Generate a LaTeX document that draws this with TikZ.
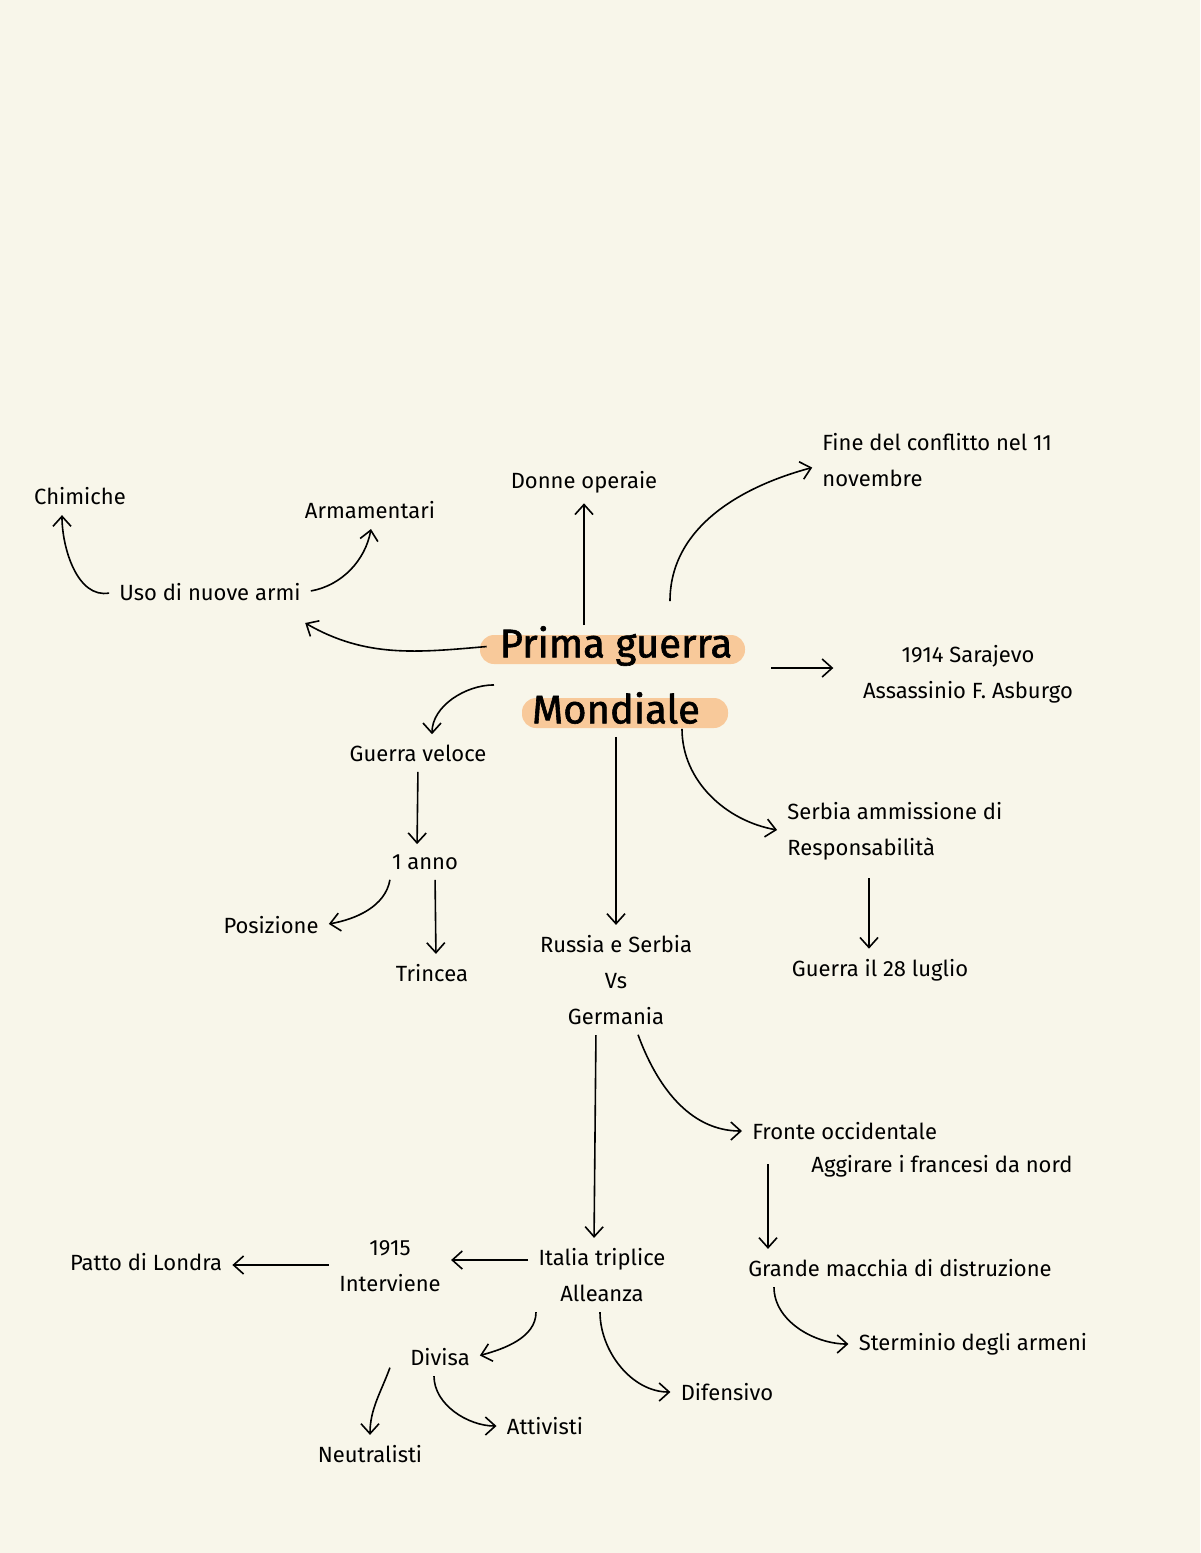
\documentclass[tikz,border=0pt]{standalone}
\usepackage{fontspec}
\setmainfont{Fira Sans}
\usetikzlibrary{arrows.meta}
\definecolor{paper}{HTML}{F8F6EA}
\definecolor{marker}{HTML}{F8C99A}
\tikzset{
  lbl/.style={font=\fontsize{11}{18}\selectfont, align=center, inner sep=2pt},
  lbll/.style={lbl, align=left},
  arr/.style={-{Straight Barb[length=5pt,width=9pt]}, line width=0.8pt, shorten <=3pt, shorten >=3pt},
}
\begin{document}
\begin{tikzpicture}[x=0.5pt,y=-0.5pt]
  \fill[paper] (0,0) rectangle (1200,1553);
  \useasboundingbox (0,0) rectangle (1200,1553);

  %% title
  \fill[marker, rounded corners=7pt] (480,635) rectangle (745,664);
  \fill[marker, rounded corners=7pt] (522,698) rectangle (728,728);
  \node[font=\fontsize{20}{24}\selectfont\addfontfeatures{FakeBold=1.5}] (prima) at (616,646) {Prima guerra};
  \node[font=\fontsize{20}{24}\selectfont\addfontfeatures{FakeBold=1.5}] (mond) at (616,708) {Mondiale};

  %% labels
  \node[lbl] (chim) at (80,496) {Chimiche};
  \node[lbl] (arma) at (370,510) {Armamentari};
  \node[lbl] (donne) at (584,482) {Donne operaie};
  \node[lbll, anchor=west] (fine) at (818,460) {Fine del conflitto nel 11\\novembre};
  \node[lbl] (uso) at (210,592) {Uso di nuove armi};
  \node[lbl] (sara) at (968,674) {1914 Sarajevo\\Assassinio F. Asburgo};
  \node[lbl] (veloce) at (418,753) {Guerra veloce};
  \node[lbll, anchor=west] (serbia) at (783,831) {Serbia ammissione di\\Responsabilità};
  \node[lbl] (anno) at (425,862) {1 anno};
  \node[lbl] (pos) at (271,925) {Posizione};
  \node[lbl] (trin) at (432,973) {Trincea};
  \node[lbl, align=center] (russia) at (616,980) {Russia e Serbia\\Vs\\Germania};
  \node[lbl] (luglio) at (880,970) {Guerra il 28 luglio};
  \node[lbl, anchor=west] (fronte) at (748,1131) {Fronte occidentale};
  \node[lbl] (aggi) at (942,1166) {Aggirare i francesi da nord};
  \node[lbl] (grande) at (900,1268) {Grande macchia di distruzione};
  \node[lbl] (inter) at (390,1266) {1915\\Interviene};
  \node[lbl] (patto) at (146,1262) {Patto di Londra};
  \node[lbl] (italia) at (602,1275) {Italia triplice\\Alleanza};
  \node[lbl] (stermi) at (973,1344) {Sterminio degli armeni};
  \node[lbl] (divisa) at (440,1357) {Divisa};
  \node[lbl] (difen) at (727,1392) {Difensivo};
  \node[lbl] (attiv) at (545,1426) {Attivisti};
  \node[lbl] (neutr) at (370,1454) {Neutralisti};
  \coordinate (fr) at (768,1158);
  \coordinate (sr) at (869,872);
  \coordinate (nt) at (392,1362);

  %% connectors
  \draw[arr] (prima.west) to[out=185,in=-30] (300,620);
  \draw[arr] (uso.west) to[out=190,in=-90] ([xshift=-9pt]chim.south);
  \draw[arr] (uso.east) to[out=10,in=-100] ([xshift=1pt]arma.south);
  \draw[arr] ([yshift=-6pt]prima.north -| donne.south) -- (donne.south);
  \draw[arr] ([xshift=27pt,yshift=6pt]prima.north) to[out=90,in=195] ([yshift=-3pt]fine.west);
  \draw[arr] (prima.east |- 0,668) ++(26,0) -- ++(74,0);
  \draw[arr] ([xshift=-58pt,yshift=-6pt]prima.south) to[out=180,in=90] ([xshift=7pt]veloce.north);
  \draw[arr] ([xshift=33pt,yshift=4pt]mond.south) to[out=-90,in=170] (serbia.west);
  \draw[arr] (mond.south) -- (russia.north);
  \draw[arr] (veloce.south) -- ([xshift=-4pt]anno.north);
  \draw[arr] ([xshift=-17pt]anno.south) to[out=-100,in=10] (pos.east);
  \draw[arr] ([xshift=5pt]anno.south) -- ([xshift=2pt]trin.north);
  \draw[arr] (sr) -- (sr |- luglio.north);
  \draw[arr] ([xshift=-10pt]russia.south) -- ([xshift=-4pt]italia.north);
  \draw[arr] ([xshift=10pt]russia.south) to[out=-70,in=180] (fronte.west);
  \draw[arr] (fr) -- (fr |- grande.north);
  \draw[arr] (italia.west |- 0,1260) -- (inter.east |- 0,1260);
  \draw[arr] (inter.west |- 0,1265) -- (patto.east |- 0,1265);
  \draw[arr] ([xshift=-33pt]italia.south) to[out=-90,in=15] (divisa.east);
  \draw[arr] ([xshift=-1pt]italia.south) to[out=-90,in=180] (difen.west);
  \draw[arr] ([xshift=-63pt]grande.south) to[out=-90,in=180] (stermi.west);
  \draw[arr] (nt) to[out=-110,in=90] (neutr.north);
  \draw[arr] ([xshift=-3pt]divisa.south) to[out=-90,in=180] (attiv.west);
\end{tikzpicture}
\end{document}
